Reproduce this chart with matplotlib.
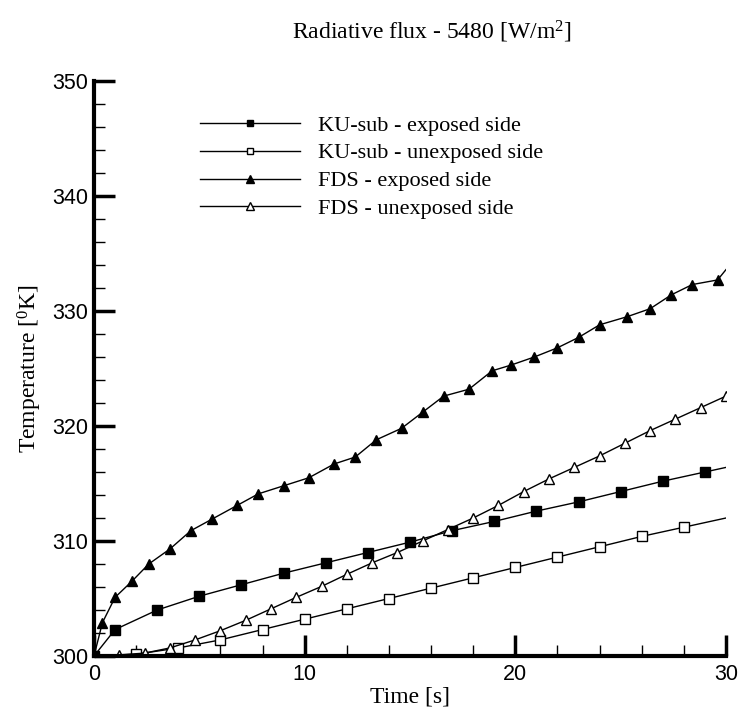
import matplotlib
matplotlib.use("Agg")
import matplotlib.pyplot as plt
from matplotlib.ticker import MultipleLocator

plt.rcParams['mathtext.fontset'] = 'custom'
plt.rcParams['mathtext.rm'] = 'Liberation Serif'
plt.rcParams['mathtext.it'] = 'Liberation Serif:italic'

# KU-sub - exposed side
ku_exp_t = [0, 1, 3, 5, 7, 9, 11, 13, 15, 17, 19, 21, 23, 25, 27, 29, 30]
ku_exp_T = [300, 302.3, 304.0, 305.2, 306.2, 307.2, 308.1, 309.0, 309.9, 310.9,
            311.7, 312.6, 313.4, 314.3, 315.2, 316.0, 316.4]

# KU-sub - unexposed side
ku_unexp_t = [0, 2, 4, 6, 8, 10, 12, 14, 16, 18, 20, 22, 24, 26, 28, 30]
ku_unexp_T = [300, 300.15, 300.7, 301.4, 302.3, 303.2, 304.1, 305.0, 305.9, 306.8,
              307.7, 308.6, 309.5, 310.4, 311.2, 312.0]

# FDS - exposed side
fds_exp_t = [0, 0.4, 1.0, 1.8, 2.6, 3.6, 4.6, 5.6, 6.8, 7.8, 9.0, 10.2, 11.4, 12.4,
             13.4, 14.6, 15.6, 16.6, 17.8, 18.9, 19.8, 20.9, 22.0, 23.0, 24.0, 25.3,
             26.4, 27.4, 28.4, 29.6, 30]
fds_exp_T = [300, 302.9, 305.1, 306.5, 308.0, 309.3, 310.9, 311.9, 313.1, 314.1,
             314.8, 315.5, 316.7, 317.3, 318.8, 319.8, 321.2, 322.6, 323.2, 324.8,
             325.3, 326.0, 326.8, 327.7, 328.8, 329.5, 330.2, 331.4, 332.3, 332.7, 333.6]

# FDS - unexposed side
fds_unexp_t = [0, 1.2, 2.4, 3.6, 4.8, 6.0, 7.2, 8.4, 9.6, 10.8, 12.0, 13.2, 14.4,
               15.6, 16.8, 18.0, 19.2, 20.4, 21.6, 22.8, 24.0, 25.2, 26.4, 27.6, 28.8, 30.0]
fds_unexp_T = [300, 300.1, 300.25, 300.7, 301.4, 302.2, 303.1, 304.1, 305.1, 306.05,
               307.1, 308.1, 309.0, 310.0, 311.0, 312.0, 313.1, 314.3, 315.4, 316.4,
               317.4, 318.5, 319.6, 320.6, 321.6, 322.6]

labels = ['KU-sub - exposed side', 'KU-sub - unexposed side',
          'FDS - exposed side', 'FDS - unexposed side']

fig = plt.figure(figsize=(7.4, 7.11), dpi=100)
ax = fig.add_axes([94/740, 1 - 656/711, (726 - 94)/740, (656 - 81)/711])

common = dict(color='black', lw=1.0, mec='black', mew=1.0)
ax.plot(ku_exp_t, ku_exp_T, marker='s', ms=6.8, mfc='black',
        markevery=list(range(0, len(ku_exp_t) - 1)), label=labels[0], **common)
ax.plot(ku_unexp_t, ku_unexp_T, marker='s', ms=6.8, mfc='white',
        markevery=list(range(1, len(ku_unexp_t) - 1)), label=labels[1], **common)
ax.plot(fds_exp_t, fds_exp_T, marker='^', ms=7.8, mfc='black',
        markevery=list(range(0, len(fds_exp_t) - 1)), label=labels[2], **common)
ax.plot(fds_unexp_t, fds_unexp_T, marker='^', ms=7.8, mfc='white',
        markevery=list(range(1, len(fds_unexp_t))), label=labels[3], **common)

ax.set_xlim(0, 30)
ax.set_ylim(300, 350)
ax.xaxis.set_major_locator(MultipleLocator(10))
ax.xaxis.set_minor_locator(MultipleLocator(2))
ax.yaxis.set_major_locator(MultipleLocator(10))
ax.yaxis.set_minor_locator(MultipleLocator(2))
ax.tick_params(which='major', direction='in', length=15, width=2.5, labelsize=15.5)
ax.tick_params(axis='x', which='major', pad=6)
ax.tick_params(axis='y', which='major', pad=4)
ax.tick_params(which='minor', direction='in', length=8, width=1.0)
for lab in ax.get_xticklabels() + ax.get_yticklabels():
    lab.set_fontfamily('Liberation Sans')
ax.spines['top'].set_visible(False)
ax.spines['right'].set_visible(False)
ax.spines['left'].set_linewidth(3)
ax.spines['bottom'].set_linewidth(3)
ax.set_facecolor('none')

serif = 'Liberation Serif'
ax.set_xlabel('Time [s]', family=serif, fontsize=17, labelpad=1)
ax.set_ylabel(r'Temperature [$^0$K]', family=serif, fontsize=17, labelpad=6)
fig.text(432/740, 1 - 32/711, r'Radiative flux - 5480 [W/m$^2$]', family=serif,
         fontsize=17, ha='center', va='center')

leg = ax.legend(loc='upper left', bbox_to_anchor=(200/740, 1 - 115/711),
                bbox_transform=fig.transFigure, frameon=False, handlelength=4.5,
                handletextpad=0.8, labelspacing=0.33, markerscale=0.65,
                prop={'family': serif, 'size': 16}, borderaxespad=0, borderpad=0)

fig.savefig('out.png', dpi=100)
